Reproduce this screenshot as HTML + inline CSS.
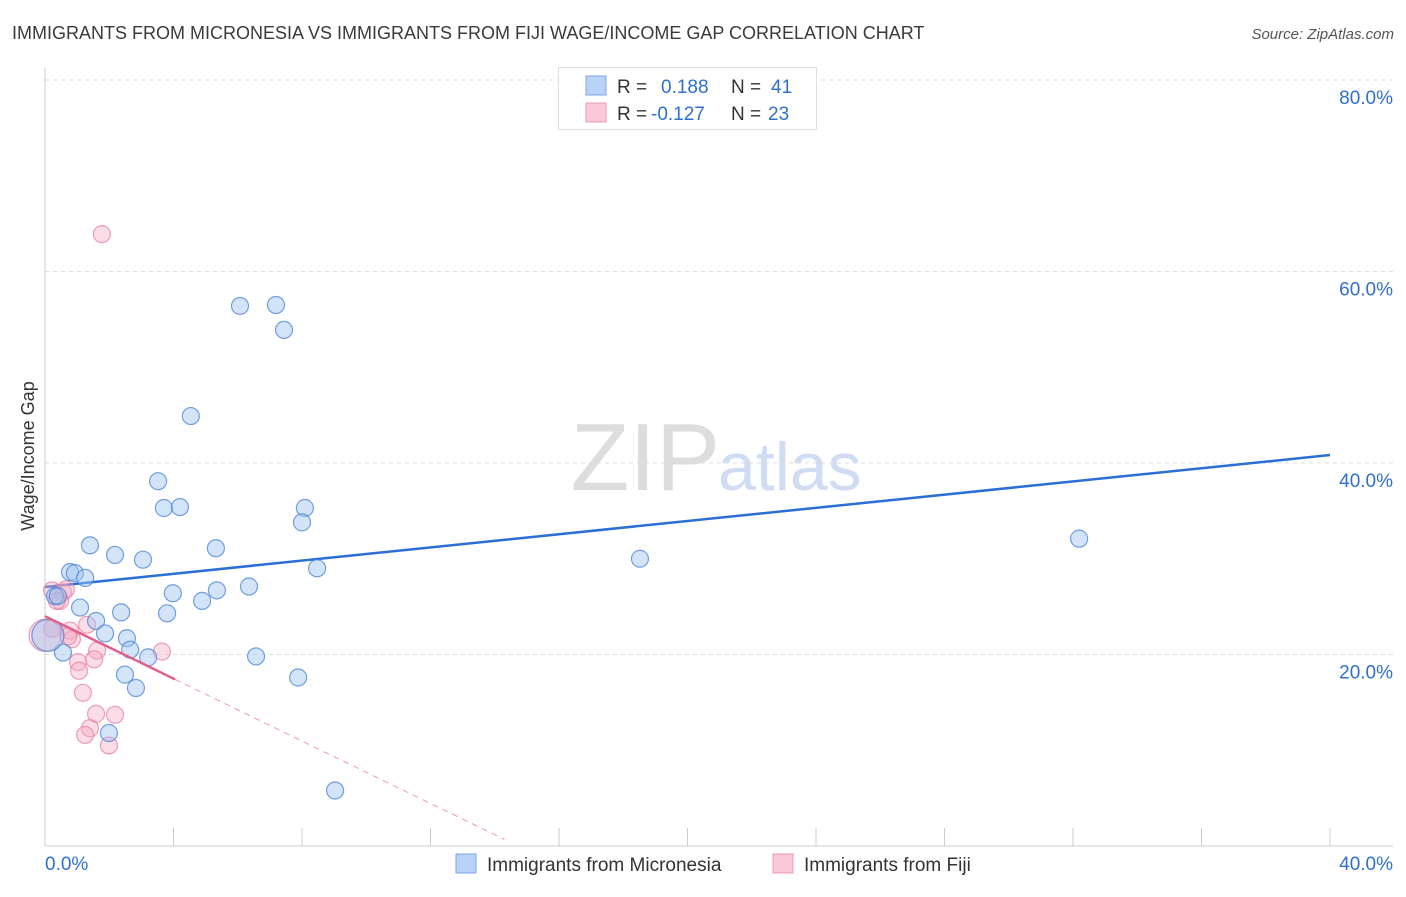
<!DOCTYPE html>
<html><head><meta charset="utf-8"><style>
body{margin:0;background:#fff;font-family:"Liberation Sans",sans-serif;}
svg text{font-family:"Liberation Sans",sans-serif;}
</style></head><body>
<svg id="chart" width="1406" height="892" xmlns="http://www.w3.org/2000/svg">
<text x="12" y="39" font-size="18" fill="#3a3a3a">IMMIGRANTS FROM MICRONESIA VS IMMIGRANTS FROM FIJI WAGE/INCOME GAP CORRELATION CHART</text>
<text x="1394" y="39" font-size="15" fill="#555" text-anchor="end" font-style="italic">Source: ZipAtlas.com</text>
<text x="720" y="490" font-size="96" fill="#ddd" text-anchor="end" font-family="Liberation Serif">ZIP</text>
<text x="718" y="490" font-size="68" fill="#cfdcf3">atlas</text>
<g id="grid"></g>
<g id="axes"></g>
<g id="trend"></g>
<g id="points"></g>
<text transform="translate(34,456) rotate(-90)" font-size="18" fill="#333" text-anchor="middle">Wage/Income Gap</text>
<g>
<rect x="558.5" y="67.5" width="258" height="62" fill="#fff" stroke="#ddd"/>
<rect x="586" y="76" width="20" height="19" fill="#b8d2f5" stroke="#7aa6e6"/>
<rect x="586" y="103" width="20" height="19" fill="#fac9d7" stroke="#ee9ab4"/>
<text x="617" y="93" font-size="19" fill="#333">R =</text>
<text x="661" y="93" font-size="19" fill="#2f6fd0">0.188</text>
<text x="731" y="93" font-size="19" fill="#333">N =</text>
<text x="771" y="93" font-size="19" fill="#2f6fd0">41</text>
<text x="617" y="120" font-size="19" fill="#333">R =</text>
<text x="651" y="120" font-size="19" fill="#2f6fd0">-0.127</text>
<text x="731" y="120" font-size="19" fill="#333">N =</text>
<text x="768" y="120" font-size="19" fill="#2f6fd0">23</text>
</g>
<g>
<rect x="456" y="854" width="20" height="19" fill="#b8d2f5" stroke="#7aa6e6"/>
<text x="487" y="871" font-size="19" fill="#333">Immigrants from Micronesia</text>
<rect x="773" y="854" width="20" height="19" fill="#fac9d7" stroke="#ee9ab4"/>
<text x="804" y="871" font-size="19" fill="#333">Immigrants from Fiji</text>
</g>
</svg>
<script>
const yTicks=[20,40,60,80];
const yTickLabels=["20.0%","40.0%","60.0%","80.0%"];
const xTicks=[0,4,8,12,16,20,24,28,32,36,40];
const blueX=[6.07,7.19,7.44,4.54,3.52,3.70,4.20,8.09,8.00,1.40,2.18,5.32,3.05,32.19,18.52,8.47,0.78,0.93,1.25,6.35,5.35,3.98,4.89,1.09,0.31,2.37,3.80,1.59,1.87,2.55,2.65,0.56,3.21,6.57,2.49,2.83,7.88,1.99,9.03,0.09,0.40];
const blueY=[56.4,56.5,53.9,44.9,38.1,35.3,35.4,35.3,33.8,31.4,30.4,31.1,29.9,32.1,30.0,29.0,28.6,28.5,28.0,27.1,26.7,26.4,25.6,24.9,26.1,24.4,24.3,23.5,22.2,21.7,20.5,20.2,19.7,19.8,17.9,16.5,17.6,11.8,5.8,22.0,26.1];
const pinkX=[1.77,0.22,0.56,0.47,0.65,0.78,0.84,0.22,0.72,1.31,1.62,1.53,1.03,1.06,3.64,1.18,1.59,2.18,1.40,1.25,1.99,0.0,0.37];
const pinkY=[63.9,26.7,26.5,25.6,26.8,22.5,21.6,22.7,21.9,23.1,20.4,19.5,19.2,18.3,20.3,16.0,13.8,13.7,12.3,11.6,10.5,22.0,25.6];
const blueTrend=[27.05,0.3445]; // intercept, slope
const pinkTrend=[24.0,-1.63];
const pinkSolidEnd=4.05, pinkDashEnd=14.3;
const X=v=>45+v/40*1285;
const Y=v=>846-v/20*191.5;
const NS="http://www.w3.org/2000/svg";
function mk(tag,attrs,parent){const e=document.createElementNS(NS,tag);for(const k in attrs)e.setAttribute(k,attrs[k]);parent.appendChild(e);return e;}
const grid=document.getElementById('grid'),axes=document.getElementById('axes'),trend=document.getElementById('trend'),pts=document.getElementById('points');
yTicks.forEach((t,i)=>{
 const l=mk('line',{x1:45,x2:1393,y1:Y(t),y2:Y(t),stroke:'#ddd','stroke-dasharray':'4,4'},grid);
 
 
 const tx=mk('text',{x:1393,y:Y(t)+24,'font-size':19,fill:'#2f6fd0','text-anchor':'end'},axes);
 tx.textContent=yTickLabels[i];
 
 
});
const ax=mk('line',{x1:45,x2:45,y1:68,y2:846,stroke:'#ccc'},axes);


const bx=mk('line',{x1:45,x2:1393,y1:846,y2:846,stroke:'#ccc'},axes);


xTicks.forEach(t=>{
 const l=mk('line',{x1:X(t),x2:X(t),y1:828,y2:846,stroke:'#ccc'},axes);
 
 
});
const xl0=mk('text',{x:45,y:870,'font-size':19,fill:'#2f6fd0'},axes);xl0.textContent='0.0%';


const xl1=mk('text',{x:1393,y:870,'font-size':19,fill:'#2f6fd0','text-anchor':'end'},axes);xl1.textContent='40.0%';


function dot(x,y,fill,stroke,big){
 const c=mk('circle',{cx:X(x),cy:Y(y),r:big?16:8.5,fill:fill,stroke:stroke,'stroke-width':1.2},pts);
 return c;
}
pinkX.forEach((x,i)=>{
 const c=dot(x,pinkY[i],'rgba(246,170,195,0.4)','rgba(232,120,155,0.7)',x===0);
 
 
});
blueX.forEach((x,i)=>{
 const c=dot(x,blueY[i],'rgba(160,195,240,0.45)','rgba(70,130,215,0.75)',i===39);
 
 
});
const bt=mk('line',{x1:X(0),y1:Y(blueTrend[0]),x2:X(40),y2:Y(blueTrend[0]+blueTrend[1]*40),stroke:'#2a6fd6','stroke-width':2.5},trend);


const pt=mk('line',{x1:X(0),y1:Y(pinkTrend[0]),x2:X(pinkSolidEnd),y2:Y(pinkTrend[0]+pinkTrend[1]*pinkSolidEnd),stroke:'#e0608a','stroke-width':2.5},pts);


const pd=mk('line',{x1:X(pinkSolidEnd),y1:Y(pinkTrend[0]+pinkTrend[1]*pinkSolidEnd),x2:X(pinkDashEnd),y2:Y(pinkTrend[0]+pinkTrend[1]*pinkDashEnd),stroke:'#ee9ab4','stroke-width':1,'stroke-dasharray':'6,5'},trend);


</script>
</body></html>
